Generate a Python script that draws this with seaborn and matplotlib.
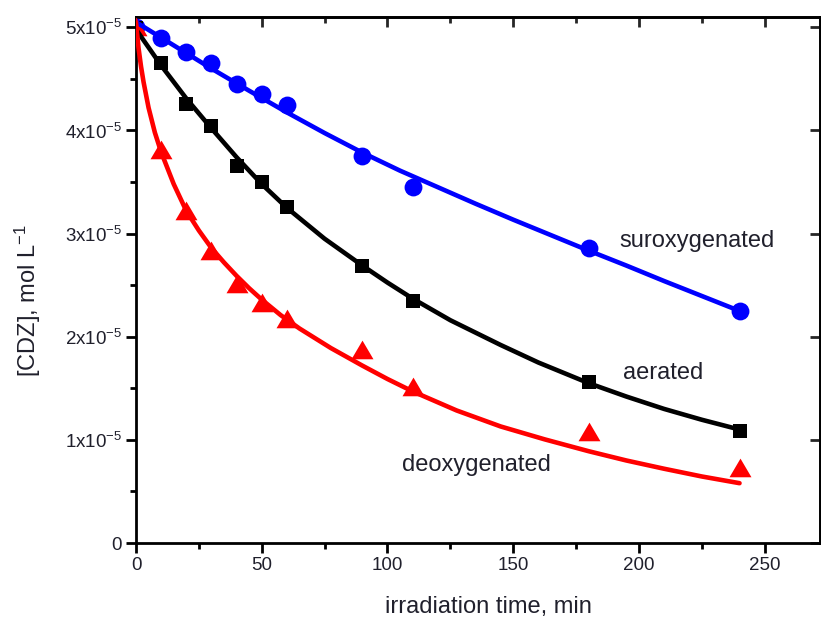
import numpy as np
import pandas as pd
import matplotlib
matplotlib.use("Agg")
import matplotlib.pyplot as plt
import seaborn as sns
from matplotlib.ticker import MultipleLocator, FuncFormatter, NullFormatter

# ---------------- data (concentration in units of 1e-5 mol/L) ----------------
t_meas = [0, 10, 20, 30, 40, 50, 60, 90, 110, 180, 240]
sur_meas = [5.00, 4.90, 4.76, 4.65, 4.45, 4.35, 4.25, 3.75, 3.45, 2.86, 2.25]
aer_meas = [4.99, 4.65, 4.26, 4.04, 3.66, 3.50, 3.26, 2.69, 2.35, 1.56, 1.09]
deo_meas = [5.00, 3.81, 3.22, 2.83, 2.51, 2.33, 2.17, 1.87, 1.51, 1.08, 0.73]

# fitted curves
t_sur_fit = [0, 15, 30, 45, 60, 75, 90, 105, 120, 135, 150, 165, 180, 195, 210, 225, 240]
sur_fit = [5.05, 4.825, 4.60, 4.385, 4.175, 3.975, 3.785, 3.61, 3.45, 3.29, 3.135,
           2.985, 2.835, 2.69, 2.54, 2.395, 2.25]
t_aer_fit = [0, 10, 20, 30, 40, 50, 60, 75, 90, 100, 110, 125, 145, 160, 180, 195,
             210, 225, 240]
aer_fit = [4.98, 4.63, 4.31, 4.02, 3.74, 3.48, 3.25, 2.95, 2.69, 2.525, 2.37, 2.16,
           1.92, 1.75, 1.55, 1.42, 1.30, 1.195, 1.10]
t_deo_fit = [0, 1, 2, 3, 5, 7.5, 10, 15, 20, 25, 30, 35, 40, 45, 50, 57.5, 65, 77.5,
             90, 100, 110, 127.5, 145, 162.5, 180, 195, 210, 225, 240]
deo_fit = [5.05, 4.80, 4.62, 4.47, 4.22, 3.98, 3.79, 3.48, 3.22, 3.03, 2.86, 2.72,
           2.59, 2.47, 2.36, 2.21, 2.08, 1.89, 1.72, 1.59, 1.47, 1.285, 1.13, 1.005,
           0.89, 0.80, 0.72, 0.645, 0.58]

labels = ["suroxygenated", "aerated", "deoxygenated"]
label_t = [223, 209.5, 135.5]
label_c = [2.87, 1.59, 0.70]

x_label = "irradiation time, min"
y_label = r"[CDZ], mol L$^{-1}$"

SCALE = 1e-5

# ---------------- style ----------------
sns.set_style("ticks")
plt.rcParams["font.family"] = ["Liberation Sans", "DejaVu Sans"]
plt.rcParams["mathtext.fontset"] = "custom"
plt.rcParams["mathtext.rm"] = "Liberation Sans"
plt.rcParams["mathtext.it"] = "Liberation Sans:italic"
plt.rcParams["mathtext.bf"] = "Liberation Sans:bold"
plt.rcParams["mathtext.default"] = "regular"

text_color = "#20202c"

fig = plt.figure(figsize=(8.21, 6.21), dpi=100)
ax = fig.add_axes([136 / 821, 78 / 621, 684 / 821, 526 / 621])

tri = [(-1.0, -0.8), (1.0, -0.8), (0.0, 0.9), (-1.0, -0.8)]

# measured points
sns.scatterplot(x=t_meas, y=np.array(sur_meas) * SCALE, marker="o", s=165,
                color="#0000ff", linewidth=0, ax=ax, zorder=3)
sns.scatterplot(x=t_meas, y=np.array(aer_meas) * SCALE, marker="s", s=115,
                color="#000000", linewidth=0, ax=ax, zorder=3)
sns.scatterplot(x=t_meas, y=np.array(deo_meas) * SCALE, marker=tri, s=250,
                color="#ff0000", linewidth=0, ax=ax, zorder=3)

# fitted curves
sns.lineplot(x=t_sur_fit, y=np.array(sur_fit) * SCALE, color="#0000ff", lw=3.3,
             sort=False, estimator=None, ax=ax, zorder=4)
sns.lineplot(x=t_aer_fit, y=np.array(aer_fit) * SCALE, color="#000000", lw=3.3,
             sort=False, estimator=None, ax=ax, zorder=4)
sns.lineplot(x=t_deo_fit, y=np.array(deo_fit) * SCALE, color="#ff0000", lw=3.3,
             sort=False, estimator=None, ax=ax, zorder=4)

for lab, tx, cy in zip(labels, label_t, label_c):
    ax.text(tx, cy * SCALE, lab, ha="center", va="baseline", fontsize=17,
            color=text_color)

ax.set_xlim(0, 272)
ax.set_ylim(0, 5.1e-5)

ax.xaxis.set_major_locator(MultipleLocator(50))
ax.xaxis.set_minor_locator(MultipleLocator(25))
ax.yaxis.set_major_locator(MultipleLocator(1e-5))
ax.yaxis.set_minor_locator(MultipleLocator(0.5e-5))


def yfmt(v, pos):
    n = int(round(v / 1e-5))
    if n == 0:
        return "0"
    return r"$%dx10^{-5}$" % n


ax.yaxis.set_major_formatter(FuncFormatter(yfmt))

ax.tick_params(axis="both", which="major", direction="out", length=7, width=2,
               labelsize=13.5, labelcolor=text_color, color="black", pad=3)
ax.tick_params(axis="both", which="minor", direction="out", length=4.5, width=2,
               color="black")
ax.tick_params(top=False, right=False, which="both")

for sp in ax.spines.values():
    sp.set_linewidth(2)
    sp.set_color("black")

# inward ticks on top and right
secx = ax.secondary_xaxis("top")
secx.xaxis.set_major_locator(MultipleLocator(50))
secx.xaxis.set_minor_locator(MultipleLocator(25))
secx.xaxis.set_major_formatter(NullFormatter())
secx.tick_params(which="major", direction="in", length=7, width=2)
secx.tick_params(which="minor", direction="in", length=4.5, width=2)
secx.spines["top"].set_linewidth(2)

secy = ax.secondary_yaxis("right")
secy.yaxis.set_major_locator(MultipleLocator(1e-5))
secy.yaxis.set_minor_locator(MultipleLocator(0.5e-5))
secy.yaxis.set_major_formatter(NullFormatter())
secy.tick_params(which="major", direction="in", length=7, width=2)
secy.tick_params(which="minor", direction="in", length=0, width=0)
secy.spines["right"].set_linewidth(2)

ax.set_xlabel(x_label, fontsize=17, color=text_color, va="center")
ax.set_ylabel(y_label, fontsize=17, color=text_color, va="center")
ax.xaxis.set_label_coords(0.515, -0.122)
ax.yaxis.set_label_coords(-0.158, 0.46)

fig.savefig("out.png", dpi=100)
